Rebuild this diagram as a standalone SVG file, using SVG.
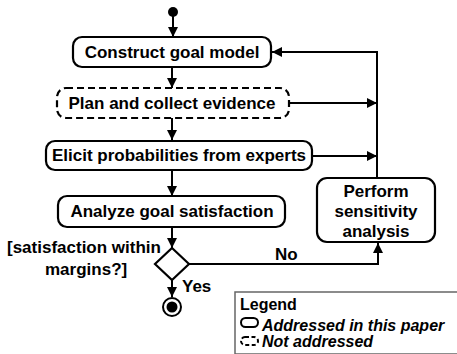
<svg xmlns="http://www.w3.org/2000/svg" width="457" height="354" viewBox="0 0 457 354">
<defs>
<marker id="ah" viewBox="0 0 10 10" refX="10" refY="5" markerWidth="5" markerHeight="5" orient="auto" markerUnits="strokeWidth">
<path d="M0,0 L10,5 L0,10 z" fill="#000"/>
</marker>
<style>
.box{fill:#fff;stroke:#000;stroke-width:2.2}
.dash{stroke-dasharray:7,4}
.t{font-family:"Liberation Sans",Arial,sans-serif;font-weight:bold;font-size:17px;fill:#000}
.c{text-anchor:middle}
.e{fill:none;stroke:#000;stroke-width:2;marker-end:url(#ah)}
.l{fill:none;stroke:#000;stroke-width:2}
.i{font-style:italic}
.lg{font-size:16px}
</style>
</defs>
<rect width="457" height="354" fill="#fff"/>
<g id="connectors">
<path class="e" d="M173,16 V37"/>
<path class="e" d="M172,67 V88"/>
<path class="e" d="M172,118 V140"/>
<path class="e" d="M172,170 V196"/>
<path class="e" d="M172,227 V248"/>
<path class="e" d="M172,280 V297"/>
<path class="e" d="M188,264 H378 V243"/>
<path class="e" d="M377,178 V52 H272"/>
<path class="e" d="M289,103 H377"/>
<path class="e" d="M312,156 H377"/>
</g>
<g id="start"><circle cx="173" cy="12" r="5" fill="#000"/></g>
<g id="construct">
<rect class="box" x="73" y="37" width="198" height="30" rx="9"/>
<text class="t c" x="172" y="58">Construct goal model</text>
</g>
<g id="plan">
<rect class="box dash" x="57" y="88" width="232" height="30" rx="9"/>
<text class="t c" x="172" y="109">Plan and collect evidence</text>
</g>
<g id="elicit">
<rect class="box" x="46" y="141" width="266" height="29" rx="9"/>
<text class="t c" x="179" y="161">Elicit probabilities from experts</text>
</g>
<g id="analyze">
<rect class="box" x="58" y="196" width="227" height="31" rx="9"/>
<text class="t c" x="172" y="217">Analyze goal satisfaction</text>
</g>
<g id="perform">
<rect class="box" x="317" y="178" width="118" height="64" rx="10"/>
<text class="t c" x="376" y="197">Perform</text>
<text class="t c" x="376" y="217">sensitivity</text>
<text class="t c" x="376" y="237">analysis</text>
</g>
<g id="decision">
<path class="box" d="M172,248 L189,264 L172,280 L155,264 Z"/>
<text class="t" x="7" y="253">[satisfaction within</text>
<text class="t" x="45" y="275">margins?]</text>
<text class="t" x="275" y="260">No</text>
<text class="t" x="182" y="292">Yes</text>
</g>
<g id="end">
<circle cx="172" cy="307" r="9" fill="#fff" stroke="#000" stroke-width="2"/>
<circle cx="172" cy="307" r="5.5" fill="#000"/>
</g>
<g id="legend">
<rect x="235" y="292" width="224" height="62" fill="#fff" stroke="#666" stroke-width="1.5"/>
<text class="t lg" x="240" y="310">Legend</text>
<rect x="241" y="318" width="17" height="9" rx="4.5" fill="#fff" stroke="#000" stroke-width="2"/>
<text class="t i lg" x="262" y="331">Addressed in this paper</text>
<rect x="241" y="337" width="17" height="8" rx="4" fill="#fff" stroke="#000" stroke-width="2" stroke-dasharray="4,2.5"/>
<text class="t i lg" x="262" y="347">Not addressed</text>
</g>
</svg>
